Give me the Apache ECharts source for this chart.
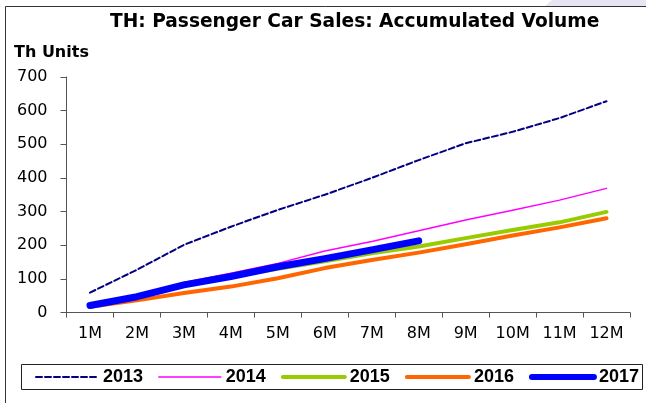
<!DOCTYPE html>
<html>
<head>
<meta charset="utf-8">
<title>TH: Passenger Car Sales: Accumulated Volume</title>
<script src="https://cdn.jsdelivr.net/npm/echarts@6/dist/echarts.min.js"></script>
<style>
  html, body { margin: 0; padding: 0; background: #fff; }
  #chart { width: 646px; height: 403px; }
</style>
</head>
<body>
<div id="chart"></div>
<script>
// Months of the year (cumulative sales, thousand units)
const months = ['1M', '2M', '3M', '4M', '5M', '6M', '7M', '8M', '9M', '10M', '11M', '12M'];
const sales2013 = [59, 127, 201, 255, 305, 350, 400, 453, 503, 537, 578, 628];
const sales2014 = [20, 49, 89, 117, 146, 183, 211, 243, 275, 304, 334, 369];
const sales2015 = [20, 45, 82, 107, 130, 152, 176, 196, 221, 245, 268, 299];
const sales2016 = [17, 36, 58, 77, 102, 132, 156, 178, 203, 229, 253, 280];
const sales2017 = [21, 47, 82, 107, 136, 160, 186, 213];
const yTicks = [0, 100, 200, 300, 400, 500, 600, 700];

const chart = echarts.init(document.getElementById('chart'), null, { renderer: 'canvas' });

const seriesDefs = [
  { name: '2013', data: sales2013, color: '#000080', width: 2, type: [6, 3] },
  { name: '2014', data: sales2014, color: '#ff00ff', width: 1.5, type: 'solid' },
  { name: '2015', data: sales2015, color: '#99cc00', width: 4, type: 'solid' },
  { name: '2016', data: sales2016, color: '#ff6600', width: 4, type: 'solid' },
  { name: '2017', data: sales2017, color: '#0000ff', width: 7, type: 'solid' }
];
const legendWidths = [2, 1.5, 4, 4, 6];

chart.setOption({
  animation: false,
  backgroundColor: '#ffffff',
  grid: { left: 66.5, right: 16, top: 77, bottom: 90.5, containLabel: false },
  graphic: [
    // soft corner shading above the frame
    { type: 'polygon', silent: true, shape: { points: [[545, 6], [552, 0], [646, 0], [646, 6]] },
      style: { fill: '#e6e6f2' } },
    // frame: top and left edges
    { type: 'polyline', silent: true, shape: { points: [[5.5, 403], [5.5, 6.5], [646, 6.5]] },
      style: { stroke: '#333333', lineWidth: 1, fill: null } },
    // legend box
    { type: 'rect', silent: true, shape: { x: 21.5, y: 364.5, width: 621, height: 25 },
      style: { stroke: '#222222', lineWidth: 1, fill: null } },
    { type: 'text', silent: true, left: 110, top: 13,
      style: { text: 'TH: Passenger Car Sales: Accumulated Volume', fill: '#000',
        font: 'bold 18.6px "DejaVu Sans"' } },
    { type: 'text', silent: true, left: 14, top: 45,
      style: { text: 'Th Units', fill: '#000', font: 'bold 16px "DejaVu Sans"' } }
  ],
  legend: {
    left: 35, top: 368,
    itemWidth: 62, itemHeight: 14, itemGap: 15,
    padding: 0,
    itemStyle: { opacity: 0 },
    textStyle: { fontFamily: '"Liberation Sans", Arial', fontWeight: 'bold', fontSize: 18, color: '#000' },
    data: seriesDefs.map((s, i) => ({
      name: s.name,
      itemStyle: { opacity: 0 },
      lineStyle: { width: legendWidths[i], cap: 'round' }
    }))
  },
  xAxis: {
    type: 'category',
    data: months,
    boundaryGap: true,
    axisLine: { lineStyle: { color: '#555', width: 1 } },
    axisTick: { show: true, length: 5, alignWithLabel: false, lineStyle: { color: '#555' } },
    axisLabel: { color: '#000', fontFamily: '"DejaVu Sans"', fontSize: 16, margin: 13 },
    splitLine: { show: false }
  },
  yAxis: {
    type: 'value',
    min: yTicks[0], max: yTicks[yTicks.length - 1], interval: 100,
    axisLine: { show: true, lineStyle: { color: '#555', width: 1 } },
    axisTick: { show: true, length: 6, lineStyle: { color: '#555' } },
    axisLabel: { color: '#000', fontFamily: '"DejaVu Sans"', fontSize: 16, margin: 19 },
    splitLine: { show: false }
  },
  series: seriesDefs.map(s => ({
    name: s.name,
    type: 'line',
    data: s.data,
    showSymbol: false,
    symbol: 'none',
    smooth: false,
    color: s.color,
    lineStyle: { color: s.color, width: s.width, type: s.type, cap: 'round', join: 'round' },
    emphasis: { disabled: true }
  }))
});
</script>
</body>
</html>
